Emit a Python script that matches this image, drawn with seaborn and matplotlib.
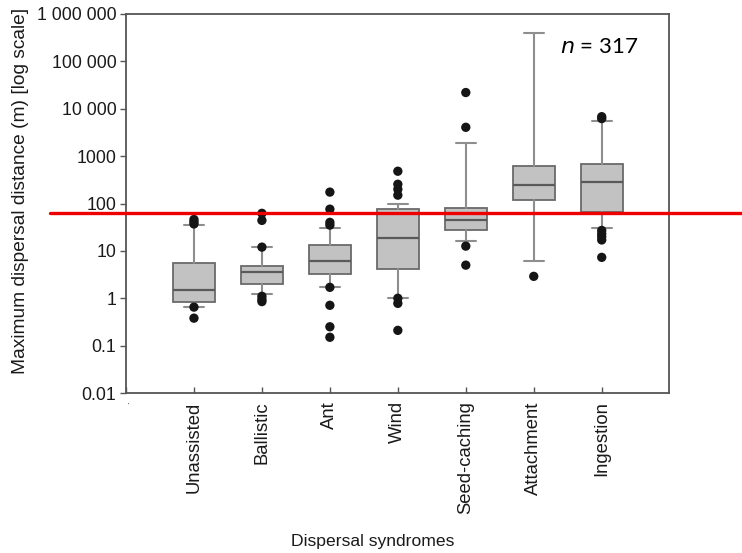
import matplotlib
matplotlib.use("Agg")
import matplotlib.pyplot as plt
import seaborn as sns
import pandas as pd
from matplotlib.ticker import FixedLocator, NullLocator

# ---- data ----
categories = ["Unassisted", "Ballistic", "Ant", "Wind", "Seed-caching", "Attachment", "Ingestion"]
q1 = [0.83, 2.0, 3.2, 4.1, 27, 117, 65]
medians = [1.5, 3.5, 6.0, 18.5, 44, 240, 280]
q3 = [5.5, 4.8, 13, 75, 79, 610, 670]
whisker_low = [0.65, 1.2, 1.7, 1.0, 16, 6.0, 30]
whisker_high = [36, 12, 30, 100, 1860, 390000, 5400]
outliers = [
    [46, 41, 37, 0.65, 0.38],
    [62, 44, 12, 1.1, 0.95, 0.85],
    [174, 76, 40, 35, 1.7, 0.71, 0.25, 0.15],
    [480, 255, 200, 150, 1.0, 0.78, 0.21],
    [22000, 4060, 12.6, 5.0],
    [2.9],
    [6800, 6200, 27, 23, 20, 17, 7.3],
]
threshold = 62
ytick_vals = [0.01, 0.1, 1, 10, 100, 1000, 10000, 100000, 1000000]
ytick_labels = ["0.01", "0.1", "1", "10", "100", "1000", "10 000", "100 000", "1 000 000"]
annotation = "n = 317"

# ---- style ----
sns.set_style("white")
plt.rcParams["font.family"] = ["Liberation Sans", "DejaVu Sans"]

fig = plt.figure(figsize=(7.42, 5.53), dpi=100)
ax = fig.add_axes([126 / 742, 1 - 393 / 553, 543 / 742, 379 / 553])

stats = []
for i, c in enumerate(categories):
    stats.append(dict(label=c, q1=q1[i], med=medians[i], q3=q3[i],
                      whislo=whisker_low[i], whishi=whisker_high[i], fliers=[]))
positions = list(range(1, len(categories) + 1))
ax.bxp(stats, positions=positions, widths=0.62, capwidths=0.3, showfliers=False,
       patch_artist=True,
       boxprops=dict(facecolor="#c2c2c2", edgecolor="#6a6a6a", linewidth=1.3),
       medianprops=dict(color="#5a5a5a", linewidth=1.6),
       whiskerprops=dict(color="#8e8e8e", linewidth=1.5),
       capprops=dict(color="#8e8e8e", linewidth=1.5))

fl = pd.DataFrame([(positions[i], v) for i, vals in enumerate(outliers) for v in vals],
                  columns=["pos", "value"])
sns.scatterplot(data=fl, x="pos", y="value", ax=ax, color="#151515", s=45,
                edgecolor="none", zorder=5, legend=False)

ax.set_yscale("log")
ax.set_ylim(0.01, 1e6)
ax.set_xlim(0, 7.99)
ax.yaxis.set_major_locator(FixedLocator(ytick_vals))
ax.yaxis.set_minor_locator(NullLocator())
ax.set_yticklabels(ytick_labels)
ax.set_xticks([0] + positions)
ax.set_xticklabels(["."] + categories, rotation=90, va="top", ha="center")

for s in ax.spines.values():
    s.set_visible(True)
    s.set_color("#555555")
    s.set_linewidth(1.3)

ax.tick_params(axis="y", direction="out", length=4, width=1, color="#555555",
               labelsize=12.8, labelcolor="#1a1a1a", pad=3, left=True)
ax.tick_params(axis="x", direction="in", length=4, width=1, color="#555555",
               labelsize=13.3, labelcolor="#1a1a1a", pad=6, bottom=True)
ax.get_xticklabels()[0].set_fontsize(7)

ax.set_ylabel("Maximum dispersal distance (m) [log scale]", fontsize=13.8, color="#1a1a1a")
ax.set_xlabel("Dispersal syndromes", fontsize=12.6, color="#1a1a1a")
ax.yaxis.set_label_coords(-0.178, 0.533)
ax.xaxis.set_label_coords(0.455, -0.372)

ax.axhline(threshold, xmin=(50 - 126) / 543, xmax=(742 - 126) / 543,
           color="#ee0000", linewidth=2.4, clip_on=False, zorder=6)

ax.text((560 - 126) / 543, (393 - 47) / 379, "$\\it{n}$ = 317", transform=ax.transAxes,
        fontsize=16, family="Lato", color="black", va="center", ha="left")

fig.savefig("out.png", dpi=100)
